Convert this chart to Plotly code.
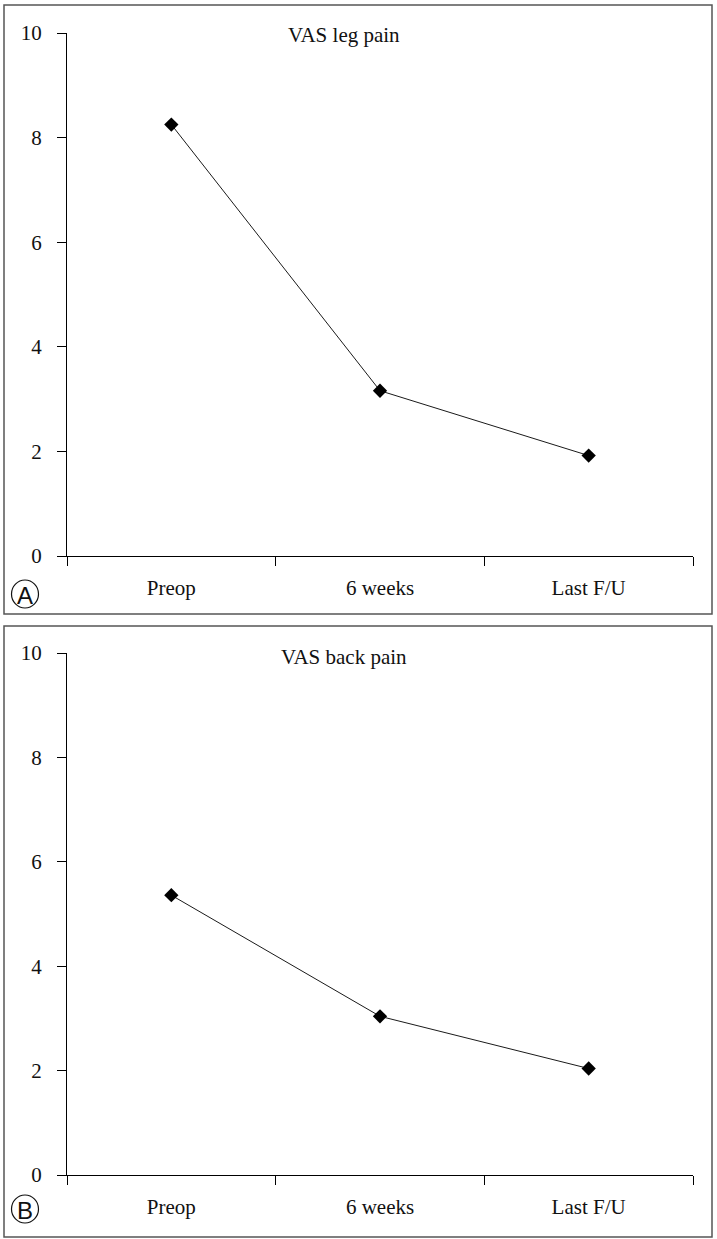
import plotly.graph_objects as go

categories = ["Preop", "6 weeks", "Last F/U"]
leg_pain = [8.25, 3.16, 1.92]
back_pain = [5.36, 3.04, 2.04]
y_ticks = [0, 2, 4, 6, 8, 10]
panel_titles = ["VAS leg pain", "VAS back pain"]
panel_letters = ["A", "B"]

W, H = 717, 1239
SERIF = "Liberation Serif, Times New Roman, serif"
SANS = "Liberation Sans, Arial, sans-serif"


def px_x(x):
    return x / W


def px_y(y):
    return 1 - y / H


fig = go.Figure()

fig.add_trace(go.Scatter(
    x=categories, y=leg_pain, xaxis="x", yaxis="y", mode="lines+markers",
    line=dict(color="#1a1a1a", width=1),
    marker=dict(symbol="diamond", size=11, color="#000000"),
    showlegend=False, hoverinfo="skip"))
fig.add_trace(go.Scatter(
    x=categories, y=back_pain, xaxis="x2", yaxis="y2", mode="lines+markers",
    line=dict(color="#1a1a1a", width=1),
    marker=dict(symbol="diamond", size=11, color="#000000"),
    showlegend=False, hoverinfo="skip"))

xcommon = dict(
    type="category", range=[-0.5, 2.5], domain=[px_x(67), px_x(693)],
    showline=True, linecolor="#000000", linewidth=1,
    showgrid=False, zeroline=False, automargin=False,
    ticks="outside", tickson="boundaries", ticklen=9, tickwidth=1, tickcolor="#000000",
    tickfont=dict(family=SERIF, size=21, color="#111111"),
    ticklabelstandoff=13, fixedrange=True,
)
ycommon = dict(
    range=[0, 10], tickvals=y_ticks,
    showline=True, linecolor="#000000", linewidth=1,
    showgrid=False, zeroline=False, automargin=False,
    ticks="outside", ticklen=9, tickwidth=1, tickcolor="#000000",
    tickfont=dict(family=SERIF, size=21, color="#111111"),
    ticklabelstandoff=11, fixedrange=True,
)

fig.update_layout(
    width=W, height=H,
    margin=dict(l=0, r=0, t=0, b=0, pad=0),
    paper_bgcolor="white", plot_bgcolor="white",
    xaxis=dict(xcommon, anchor="y"),
    yaxis=dict(ycommon, anchor="x", domain=[px_y(556), px_y(33)]),
    xaxis2=dict(xcommon, anchor="y2"),
    yaxis2=dict(ycommon, anchor="x2", domain=[px_y(1175), px_y(653)]),
)

shapes = []
annotations = []
panels = [(5, 614), (626, 1237)]
title_y = [35, 657]
letter_y = [594, 1209]
for i, (top, bottom) in enumerate(panels):
    shapes.append(dict(type="rect", xref="paper", yref="paper",
                       x0=px_x(4), x1=px_x(712), y0=px_y(bottom), y1=px_y(top),
                       line=dict(color="#555555", width=1.5), fillcolor="rgba(0,0,0,0)"))
    shapes.append(dict(type="circle", xref="paper", yref="paper",
                       x0=px_x(11.5), x1=px_x(38.5),
                       y0=px_y(letter_y[i] + 14), y1=px_y(letter_y[i] - 14),
                       line=dict(color="#111111", width=1.2)))
    annotations.append(dict(text=panel_titles[i], xref="paper", yref="paper",
                            x=px_x(344), y=px_y(title_y[i]), showarrow=False,
                            xanchor="center", yanchor="middle",
                            font=dict(family=SERIF, size=21, color="#111111")))
    annotations.append(dict(text=panel_letters[i], xref="paper", yref="paper",
                            x=px_x(25), y=px_y(letter_y[i] + 1), showarrow=False,
                            xanchor="center", yanchor="middle",
                            font=dict(family=SANS, size=24, color="#111111")))

fig.update_layout(shapes=shapes, annotations=annotations)

fig.write_html("out.html",
               config={"displayModeBar": False, "staticPlot": True},
               post_script="document.body.style.margin='0';document.body.style.overflow='hidden';")
